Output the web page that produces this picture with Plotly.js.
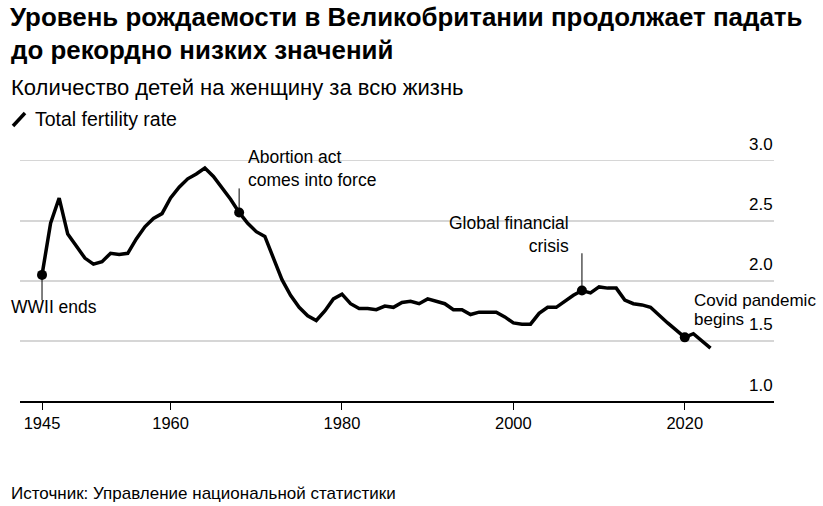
<!DOCTYPE html>
<html>
<head>
<meta charset="utf-8">
<script src="https://cdn.plot.ly/plotly-3.0.1.min.js"></script>
<style>html,body{margin:0;padding:0;background:#fff;}</style>
</head>
<body>
<div id="chart" style="width:823px;height:506px;"></div>
<script>
// ---- data ----
const years = [];
for (let y = 1945; y <= 2023; y++) years.push(y);
const tfr = [
  2.05, 2.48, 2.69, 2.39, 2.29, 2.19, 2.14, 2.16, 2.23, 2.22,
  2.23, 2.35, 2.45, 2.52, 2.56, 2.69, 2.78, 2.85, 2.89, 2.94,
  2.87, 2.78, 2.68, 2.57, 2.48, 2.41, 2.37, 2.19, 2.01, 1.88,
  1.78, 1.71, 1.67, 1.75, 1.85, 1.89, 1.81, 1.77, 1.77, 1.76,
  1.79, 1.78, 1.82, 1.83, 1.81, 1.85, 1.83, 1.81, 1.76, 1.76,
  1.72, 1.74, 1.74, 1.74, 1.70, 1.65, 1.64, 1.64, 1.73, 1.78,
  1.78, 1.83, 1.88, 1.92, 1.90, 1.95, 1.94, 1.94, 1.84, 1.81,
  1.80, 1.78, 1.71, 1.65, 1.59, 1.53, 1.56, 1.50, 1.44
];
const eventYears = [1945, 1968, 2008, 2020];
const eventValues = eventYears.map(y => tfr[years.indexOf(y)]);
const xTickVals = [1945, 1960, 1980, 2000, 2020];
const yTickVals = [1.0, 1.5, 2.0, 2.5, 3.0];
const yTickText = ['1.0', '1.5', '2.0', '2.5', '3.0'];

const titleLine1 = 'Уровень рождаемости в Великобритании продолжает падать';
const titleLine2 = 'до рекордно низких значений';
const subtitle = 'Количество детей на женщину за всю жизнь';
const legendLabel = 'Total fertility rate';
const sourceText = 'Источник: Управление национальной статистики';

const FONT = 'Liberation Sans, Arial, Helvetica, sans-serif';

// ---- geometry helpers (plot area: l=20, r=49, t=120, b=105) ----
const W = 823, H = 506, L = 20, R = 49, T = 120, B = 105;
const pw = W - L - R, ph = H - T - B;
const px = x => (x - L) / pw;          // pixel -> paper x
const py = y => (H - B - y) / ph;      // pixel -> paper y
const yRange = [1.0, 1.0 + 281 / 120.1];

const traces = [
  {
    x: years, y: tfr, type: 'scatter', mode: 'lines',
    line: {color: '#000', width: 3.5, shape: 'linear'},
    hoverinfo: 'x+y', name: legendLabel
  },
  {
    x: eventYears, y: eventValues, type: 'scatter', mode: 'markers',
    marker: {color: '#000', size: 10}, hoverinfo: 'skip', name: 'events'
  }
];

const textAnn = (text, x, y, xref, yref, xanchor, size, align) => ({
  text: text, x: x, y: y, xref: xref, yref: yref, xanchor: xanchor, yanchor: 'middle',
  align: align || xanchor, borderpad: 0,
  showarrow: false, font: {family: FONT, size: size, color: '#000'}
});

// y-axis value labels: right-aligned at the plot's right edge, sitting above each gridline
const yLabelAnns = yTickVals.map((v, i) => Object.assign(
  textAnn(yTickText[i], 1, v, 'paper', 'y', 'right', 17), {yshift: 16}
));

const annotations = [
  textAnn('<b>' + titleLine2 + '</b>', px(10), py(50), 'paper', 'paper', 'left', 25.9),
  textAnn(subtitle, px(10), py(87), 'paper', 'paper', 'left', 22),
  textAnn(legendLabel, px(34), py(119), 'paper', 'paper', 'left', 19.5),
  textAnn(sourceText, px(10), py(493), 'paper', 'paper', 'left', 17),
  // event labels
  textAnn('WWII ends', px(10), 1.783, 'paper', 'y', 'left', 17.5),
  textAnn('Abortion act<br>comes into force', 1968.95, 2.935, 'x', 'y', 'left', 17.5),
  textAnn('Global financial<br>crisis', 2006.6, 2.39, 'x', 'y', 'right', 17.5),
  textAnn('Covid pandemic', 2021.0, 1.835, 'x', 'y', 'left', 17),
  textAnn('begins', 2021.0, 1.675, 'x', 'y', 'left', 17)
].concat(yLabelAnns);

const shapes = [
  // connector lines from event dots
  {type: 'line', xref: 'x', yref: 'y', x0: 1945, x1: 1945, y0: eventValues[0], y1: 1.84, line: {color: '#000', width: 1}},
  {type: 'line', xref: 'x', yref: 'y', x0: 1968, x1: 1968, y0: eventValues[1], y1: 2.77, line: {color: '#000', width: 1}},
  {type: 'line', xref: 'x', yref: 'y', x0: 2008, x1: 2008, y0: eventValues[2], y1: 2.23, line: {color: '#000', width: 1}},
  // legend icon
  {type: 'line', xref: 'paper', yref: 'paper', x0: px(13), y0: py(126), x1: px(25), y1: py(113), line: {color: '#000', width: 3.5}}
];

const layout = {
  width: W, height: H,
  margin: {l: L, r: R, t: T, b: B, pad: 0},
  paper_bgcolor: '#fff', plot_bgcolor: '#fff',
  showlegend: false,
  font: {family: FONT, color: '#000'},
  title: {
    text: '<b>' + titleLine1 + '</b>',
    font: {family: FONT, size: 25.9, color: '#000'},
    xref: 'container', yref: 'container',
    x: 10 / W, xanchor: 'left', y: 1 - 17 / H, yanchor: 'middle'
  },
  xaxis: {
    range: [1942.43, 2030.41],
    tickvals: xTickVals, ticktext: xTickVals.map(String),
    showgrid: false, zeroline: false,
    showline: true, linecolor: '#000', linewidth: 1.5,
    ticks: 'outside', ticklen: 7, tickwidth: 1, tickcolor: '#000',
    tickfont: {family: FONT, size: 16.5, color: '#000'},
    fixedrange: true
  },
  yaxis: {
    range: yRange,
    side: 'right',
    tickvals: yTickVals,
    showticklabels: false,
    ticks: '', showline: false, zeroline: false,
    showgrid: true, gridcolor: '#d6d6d6', gridwidth: 1.3,
    fixedrange: true
  },
  annotations: annotations,
  shapes: shapes
};

Plotly.newPlot('chart', traces, layout, {displayModeBar: false, staticPlot: true});
</script>
</body>
</html>
